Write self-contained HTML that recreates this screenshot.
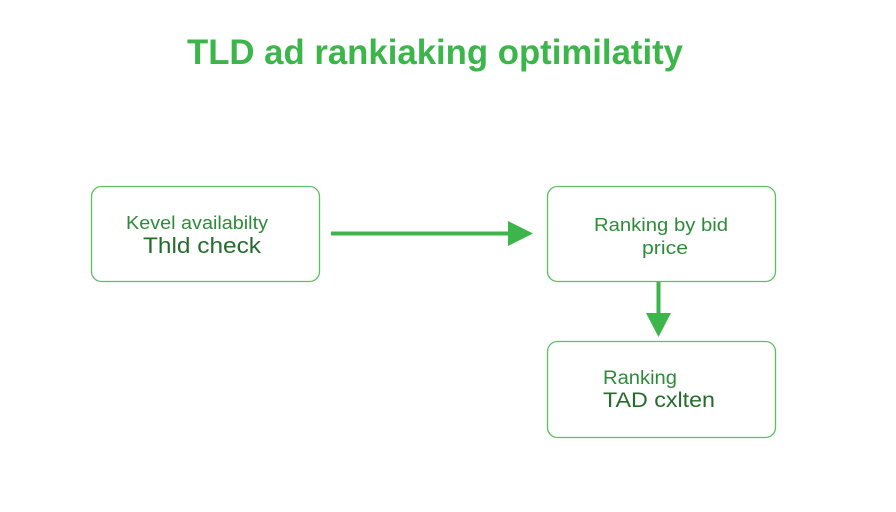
<!DOCTYPE html>
<html><head><style>
body{margin:0;background:#fff;}
svg{display:block}
</style></head><body>
<svg width="896" height="512" viewBox="0 0 896 512" xmlns="http://www.w3.org/2000/svg">
<rect width="896" height="512" fill="#fff"/>
<text x="435" y="64" text-anchor="middle" font-family="Liberation Sans, sans-serif" font-weight="bold" font-size="35" fill="#3cb54a" textLength="496" lengthAdjust="spacingAndGlyphs">TLD ad rankiaking optimilatity</text>
<g fill="none" stroke="#5cbf62" stroke-width="1.3">
<rect x="91.5" y="186.5" width="228" height="95" rx="10"/>
<rect x="547.5" y="186.5" width="228" height="95" rx="10"/>
<rect x="547.5" y="341.5" width="228" height="96" rx="10"/>
</g>
<line x1="331" y1="233.5" x2="510" y2="233.5" stroke="#3cb54a" stroke-width="4"/>
<polygon points="508,221 533,233.5 508,246" fill="#3cb54a"/>
<line x1="658.5" y1="282" x2="658.5" y2="315" stroke="#3cb54a" stroke-width="4"/>
<polygon points="646,313 671,313 658.5,337" fill="#3cb54a"/>
<g font-family="Liberation Sans, sans-serif" fill="#2e8b3a">
<text x="126" y="229" font-size="18" textLength="142" lengthAdjust="spacingAndGlyphs">Kevel availabilty</text>
<text x="143" y="253" font-size="22" fill="#256b2c" textLength="118" lengthAdjust="spacingAndGlyphs">Thld check</text>
<text x="594" y="231" font-size="18" textLength="134" lengthAdjust="spacingAndGlyphs">Ranking by bid</text>
<text x="642" y="254" font-size="18" textLength="46" lengthAdjust="spacingAndGlyphs">price</text>
<text x="603" y="384" font-size="19" textLength="74" lengthAdjust="spacingAndGlyphs">Ranking</text>
<text x="603" y="407" font-size="21" fill="#256b2c" textLength="112" lengthAdjust="spacingAndGlyphs">TAD cxlten</text>
</g>
</svg>
</body></html>
